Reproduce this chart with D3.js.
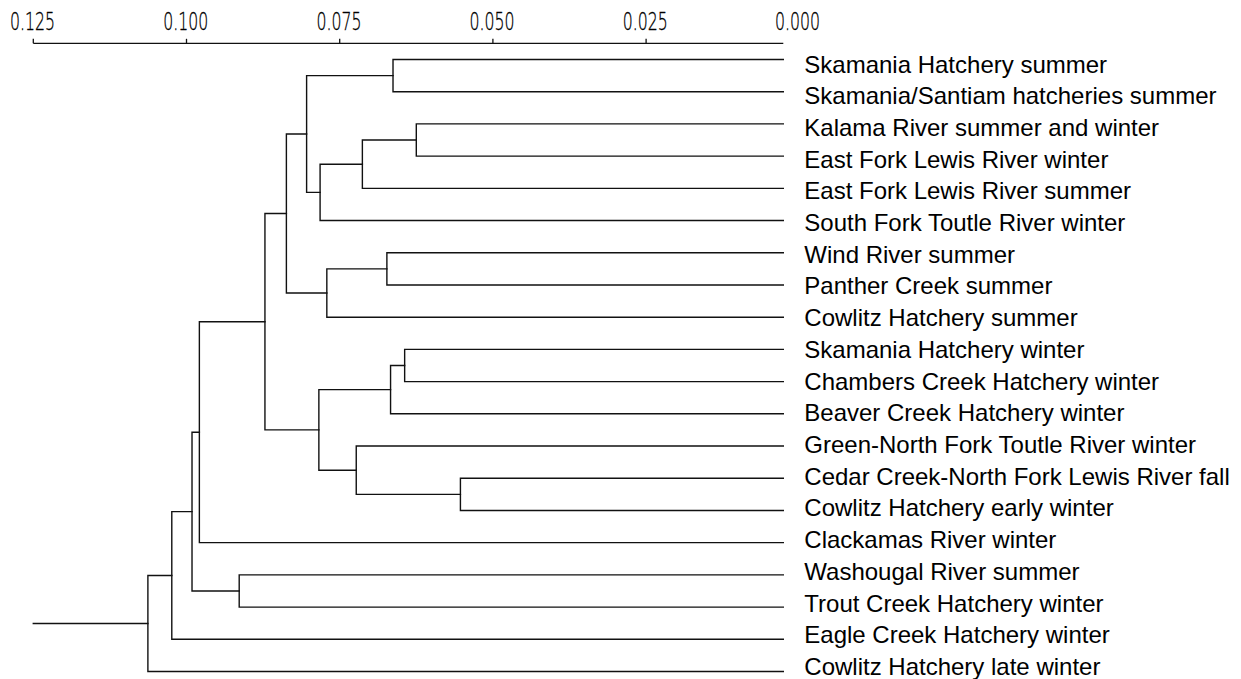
<!DOCTYPE html>
<html>
<head>
<meta charset="utf-8">
<script src="https://cdn.jsdelivr.net/npm/d3@7"></script>
<style>
  html, body { margin: 0; padding: 0; background: #fff; }
  svg { display: block; }
</style>
</head>
<body>
<svg id="chart" width="1241" height="679"></svg>
<script>
// Populations, in dendrogram order (top to bottom)
const leafLabels = [
  "Skamania Hatchery summer",
  "Skamania/Santiam hatcheries summer",
  "Kalama River summer and winter",
  "East Fork Lewis River winter",
  "East Fork Lewis River summer",
  "South Fork Toutle River winter",
  "Wind River summer",
  "Panther Creek summer",
  "Cowlitz Hatchery summer",
  "Skamania Hatchery winter",
  "Chambers Creek Hatchery winter",
  "Beaver Creek Hatchery winter",
  "Green-North Fork Toutle River winter",
  "Cedar Creek-North Fork Lewis River fall",
  "Cowlitz Hatchery early winter",
  "Clackamas River winter",
  "Washougal River summer",
  "Trout Creek Hatchery winter",
  "Eagle Creek Hatchery winter",
  "Cowlitz Hatchery late winter"
];

// Cluster joins: indices < 20 are leaves, index 20 + k is join k
const mergePairs = [
  [0, 1], [2, 3], [21, 4], [22, 5], [20, 23],
  [6, 7], [25, 8], [24, 26],
  [9, 10], [28, 11], [13, 14], [12, 30], [29, 31],
  [27, 32], [33, 15], [16, 17], [34, 35], [36, 18], [37, 19]
];

// Genetic distance at which each join happens
const mergeHeights = [
  0.0663, 0.0625, 0.0713, 0.0782, 0.0804,
  0.0673, 0.0771, 0.0837,
  0.0644, 0.0667, 0.0553, 0.0723, 0.0784,
  0.0872, 0.0979, 0.0914, 0.0991, 0.1024, 0.1063
];

const rootHeight = 0.125;
const tickValues = [0.125, 0.100, 0.075, 0.050, 0.025, 0.000];

const svg = d3.select("#chart");

const x = d3.scaleLinear().domain([0.125, 0]).range([33.3, 799.3]);
const y = d3.scalePoint().domain(leafLabels).range([59.5, 671.5]);
// label baselines run on a slightly tighter pitch than the branches
const yLabel = d3.scalePoint().domain(leafLabels).range([72.5, 675]);
const leafTipGap = 16;            // branch tips stop short of the 0.000 mark
const tipX = x(0) - leafTipGap;

const nLeaves = leafLabels.length;
const nodeX = i => i < nLeaves ? tipX : x(mergeHeights[i - nLeaves]);
const nodeYCache = {};
function nodeY(i) {
  if (i < nLeaves) return y(leafLabels[i]);
  if (nodeYCache[i] === undefined) {
    const [a, b] = mergePairs[i - nLeaves];
    nodeYCache[i] = (nodeY(a) + nodeY(b)) / 2;
  }
  return nodeYCache[i];
}

// Axis along the top
const axisG = svg.append("g").attr("transform", "translate(0,43.3)");
axisG.append("line")
  .attr("x1", x(0.125)).attr("x2", tipX)
  .attr("y1", 0).attr("y2", 0)
  .attr("stroke", "#111").attr("stroke-width", 1.3);
const ticks = axisG.selectAll("g.tick").data(tickValues).enter().append("g")
  .attr("class", "tick")
  .attr("transform", d => `translate(${x(d)},0)`);
ticks.filter(d => d > 0).append("line")
  .attr("y1", 0).attr("y2", -4.5)
  .attr("stroke", "#111").attr("stroke-width", 1.3);
ticks.append("text")
  .attr("x", d => d === 0 ? -1.8 : -0.8)
  .attr("y", -13.3)
  .attr("text-anchor", "middle")
  .attr("font-family", "DejaVu Sans")
  .attr("font-weight", 200)
  .attr("font-size", 24.7)
  .attr("textLength", 45)
  .attr("lengthAdjust", "spacingAndGlyphs")
  .attr("fill", "#000")
  .attr("stroke", "#000")
  .attr("stroke-width", 0.35)
  .text(d => d3.format(".3f")(d));

// Dendrogram branches
const lines = svg.append("g")
  .attr("stroke", "#111").attr("stroke-width", 1.4)
  .attr("fill", "none").attr("stroke-linecap", "square");

mergePairs.forEach(([a, b], k) => {
  const xh = x(mergeHeights[k]);
  const ya = nodeY(a), yb = nodeY(b);
  lines.append("path").attr("d",
    `M${nodeX(a)},${ya}H${xh}V${yb}H${nodeX(b)}`);
});

// Stem from the root join back to the axis origin
const rootIdx = nLeaves + mergePairs.length - 1;
lines.append("path").attr("d",
  `M${x(rootHeight)},${nodeY(rootIdx)}H${nodeX(rootIdx)}`);

// Leaf labels
svg.append("g").selectAll("text").data(leafLabels).enter().append("text")
  .attr("x", tipX + 21)
  .attr("y", d => yLabel(d))
  .attr("font-family", "Liberation Sans, Arial, sans-serif")
  .attr("font-size", 24)
  .attr("fill", "#000")
  .text(d => d);
</script>
</body>
</html>
